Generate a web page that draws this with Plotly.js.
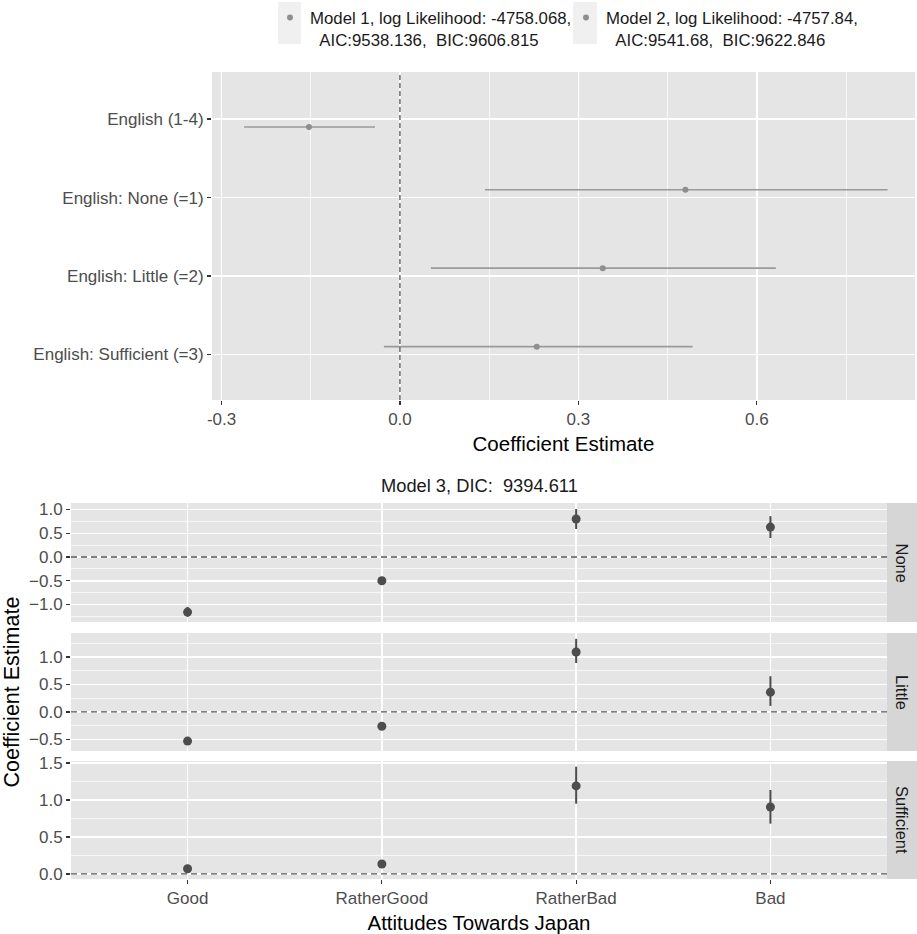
<!DOCTYPE html>
<html>
<head>
<meta charset="utf-8">
<script src="https://cdn.plot.ly/plotly-3.0.1.min.js"></script>
<style>html,body{margin:0;padding:0;background:#fff;}#chart{width:917px;height:934px;}</style>
</head>
<body>
<div id="chart"></div>
<script>
// ---------- Top panel data (Models 1 & 2) ----------
const topCategories = ['English (1-4)', 'English: None (=1)', 'English: Little (=2)', 'English: Sufficient (=3)'];
const model1Name = 'Model 1, log Likelihood: -4758.068,<br>\u00a0\u00a0AIC:9538.136,\u00a0\u00a0BIC:9606.815';
const model2Name = 'Model 2, log Likelihood: -4757.84,<br>\u00a0\u00a0AIC:9541.68,\u00a0\u00a0BIC:9622.846';
const model1Cats = ['English (1-4)'];
const model1Est = [-0.153];
const model1Lo = [-0.262];
const model1Hi = [-0.042];
const model2Cats = ['English: None (=1)', 'English: Little (=2)', 'English: Sufficient (=3)'];
const model2Est = [0.480, 0.341, 0.230];
const model2Lo = [0.143, 0.052, -0.027];
const model2Hi = [0.820, 0.632, 0.492];
const topXTicks = [-0.3, 0.0, 0.3, 0.6];
const topXMinor = [-0.15, 0.15, 0.45, 0.75];

// ---------- Bottom panel data (Model 3) ----------
const model3Title = 'Model 3, DIC:\u00a0\u00a09394.611';
const attitudes = ['Good', 'RatherGood', 'RatherBad', 'Bad'];
const facetNames = ['None', 'Little', 'Sufficient'];
const noneEst = [-1.16, -0.50, 0.80, 0.63];
const noneLo = [-1.26, -0.54, 0.59, 0.40];
const noneHi = [-1.05, -0.46, 1.01, 0.86];
const littleEst = [-0.53, -0.26, 1.09, 0.36];
const littleLo = [-0.58, -0.30, 0.89, 0.11];
const littleHi = [-0.47, -0.22, 1.33, 0.65];
const suffEst = [0.07, 0.135, 1.19, 0.905];
const suffLo = [0.03, 0.09, 0.95, 0.68];
const suffHi = [0.11, 0.18, 1.45, 1.135];

// ---------- styling ----------
const W = 917, H = 934;
const PANEL_BG = '#E5E5E5';
const STRIP_BG = '#D6D6D6';
const TICK_COL = '#4D4D4D';
const FONT = 'Liberation Sans, Arial, sans-serif';
const DODGE = 0.1;
const px = v => v / W;
const py = v => 1 - v / H;

const sub = (a, b) => a.map((v, i) => v - b[i]);
const catIndex = cats => cats.map(c => topCategories.indexOf(c));

const traces = [];
// Model 1 (dodged down)
traces.push({
  type: 'scatter', mode: 'markers', name: model1Name, xaxis: 'x', yaxis: 'y',
  x: model1Est, y: catIndex(model1Cats).map(i => i + DODGE),
  marker: {color: '#8F8F8F', size: 6},
  error_x: {type: 'data', symmetric: false, array: sub(model1Hi, model1Est), arrayminus: sub(model1Est, model1Lo),
            color: '#9A9A9A', thickness: 1.6, width: 0},
  hoverinfo: 'x+y'
});
// Model 2 (dodged up)
traces.push({
  type: 'scatter', mode: 'markers', name: model2Name, xaxis: 'x', yaxis: 'y',
  x: model2Est, y: catIndex(model2Cats).map(i => i - DODGE),
  marker: {color: '#8F8F8F', size: 6},
  error_x: {type: 'data', symmetric: false, array: sub(model2Hi, model2Est), arrayminus: sub(model2Est, model2Lo),
            color: '#9A9A9A', thickness: 1.6, width: 0},
  hoverinfo: 'x+y'
});

const facets = [
  {est: noneEst, lo: noneLo, hi: noneHi, xa: 'x2', ya: 'y2'},
  {est: littleEst, lo: littleLo, hi: littleHi, xa: 'x3', ya: 'y3'},
  {est: suffEst, lo: suffLo, hi: suffHi, xa: 'x4', ya: 'y4'}
];
facets.forEach(f => {
  traces.push({
    type: 'scatter', mode: 'markers', showlegend: false, xaxis: f.xa, yaxis: f.ya,
    x: attitudes, y: f.est,
    marker: {color: '#4D4D4D', size: 9},
    error_y: {type: 'data', symmetric: false, array: sub(f.hi, f.est), arrayminus: sub(f.est, f.lo),
              color: '#4D4D4D', thickness: 2, width: 0}
  });
});

// panel pixel boxes
const topBox = {l: 212, r: 915, t: 72, b: 400};
const botX = {l: 71, r: 887};
const botY = [{t: 503, b: 622}, {t: 633, b: 751}, {t: 761, b: 879}];
const botRanges = [[-1.368, 1.137], [-0.71, 1.436], [-0.068, 1.527]];

const tickFont = {family: FONT, size: 17, color: TICK_COL};
const titleFont = {family: FONT, size: 20.5, color: '#000'};

const legendX = 270;
const layout = {
  width: W, height: H,
  margin: {l: 0, r: 0, t: 0, b: 0},
  paper_bgcolor: '#fff', plot_bgcolor: PANEL_BG,
  showlegend: true,
  legend: {orientation: 'h', x: px(legendX), xanchor: 'left', y: 1, yanchor: 'top',
           font: {family: FONT, size: 16.8, color: '#1A1A1A'}, bgcolor: 'rgba(0,0,0,0)',
           itemwidth: 30, valign: 'top', tracegroupgap: 0, entrywidth: 251, entrywidthmode: 'pixels'},
  xaxis: {domain: [px(topBox.l), px(topBox.r)], anchor: 'y', range: [-0.316, 0.866],
          tickmode: 'array', tickvals: topXTicks, ticktext: topXTicks.map(v => v.toFixed(1)),
          ticks: 'outside', ticklen: 4, tickcolor: '#333', tickwidth: 1.2, tickfont: tickFont,
          showgrid: true, gridcolor: '#fff', gridwidth: 1.5, zeroline: false, showline: false,
          minor: {tickmode: 'array', tickvals: topXMinor, showgrid: true, gridcolor: '#fff', gridwidth: 0.7, ticks: ''},
          title: {text: 'Coefficient Estimate', font: titleFont, standoff: 8}},
  yaxis: {domain: [py(topBox.b), py(topBox.t)], anchor: 'x', range: [3.58, -0.6],
          tickmode: 'array', tickvals: topCategories.map((c, i) => i), ticktext: topCategories,
          ticks: 'outside', ticklen: 4, tickcolor: '#333', tickwidth: 1.2, tickfont: tickFont,
          showgrid: true, gridcolor: '#fff', gridwidth: 1.5, zeroline: false, showline: false},
  shapes: [],
  annotations: []
};

['x2', 'x3', 'x4'].forEach((xa, k) => {
  const ya = 'y' + (k + 2);
  const isLast = k === 2;
  layout['xaxis' + (k + 2)] = {
    domain: [px(botX.l), px(botX.r)], anchor: ya, type: 'category', range: [-0.6, 3.6],
    categoryorder: 'array', categoryarray: attitudes,
    showticklabels: isLast, ticks: isLast ? 'outside' : '', ticklen: 4, tickcolor: '#333', tickwidth: 1.2,
    tickfont: tickFont, showgrid: true, gridcolor: '#fff', gridwidth: 1.5, zeroline: false, showline: false,
    title: isLast ? {text: 'Attitudes Towards Japan', font: titleFont, standoff: 11} : {text: ''}
  };
  layout['yaxis' + (k + 2)] = {
    domain: [py(botY[k].b), py(botY[k].t)], anchor: xa, range: botRanges[k],
    dtick: 0.5, tick0: 0, tickformat: '.1f',
    ticks: 'outside', ticklen: 4, tickcolor: '#333', tickwidth: 1.2, tickfont: tickFont,
    showgrid: true, gridcolor: '#fff', gridwidth: 1.5, zeroline: false, showline: false,
    minor: {dtick: 0.25, tick0: 0, showgrid: true, gridcolor: '#fff', gridwidth: 0.7, ticks: ''},
    title: k === 1 ? {text: 'Coefficient Estimate', font: {family: FONT, size: 21.5, color: '#000'}, standoff: 6} : {text: ''}
  };
  // dashed zero reference line
  layout.shapes.push({type: 'line', xref: xa + ' domain', yref: ya, x0: 0, x1: 1, y0: 0, y1: 0,
                      line: {color: '#555', width: 1.3, dash: '6px,4px'}});
  // facet strip
  layout.shapes.push({type: 'rect', xref: 'paper', yref: 'paper', x0: px(botX.r), x1: 1,
                      y0: py(botY[k].b), y1: py(botY[k].t), fillcolor: STRIP_BG, line: {width: 0}, layer: 'below'});
  layout.annotations.push({xref: 'paper', yref: 'paper', x: px((botX.r + W) / 2), y: py((botY[k].t + botY[k].b) / 2),
                           xanchor: 'center', yanchor: 'middle',
                           text: facetNames[k], textangle: 90, showarrow: false,
                           font: {family: FONT, size: 16.5, color: '#1A1A1A'}});
});

// vertical dashed zero line in top panel
layout.shapes.push({type: 'line', xref: 'x', yref: 'y domain', x0: 0, x1: 0, y0: 0, y1: 1,
                    line: {color: '#555', width: 1.3, dash: '5px,3px'}});
// legend key backgrounds
layout.shapes.push({type: 'rect', xref: 'paper', yref: 'paper', x0: px(278), x1: px(301), y0: py(44), y1: py(2),
                    fillcolor: '#F0F0F0', line: {width: 0}, layer: 'below'});
layout.shapes.push({type: 'rect', xref: 'paper', yref: 'paper', x0: px(573), x1: px(597), y0: py(44), y1: py(2),
                    fillcolor: '#F0F0F0', line: {width: 0}, layer: 'below'});
// Model 3 title
layout.annotations.push({xref: 'paper', yref: 'paper', x: px((botX.l + botX.r) / 2), y: py(485),
                         text: model3Title, showarrow: false, font: {family: FONT, size: 18.3, color: '#1A1A1A'}});

Plotly.newPlot('chart', traces, layout, {staticPlot: true});
</script>
</body>
</html>
